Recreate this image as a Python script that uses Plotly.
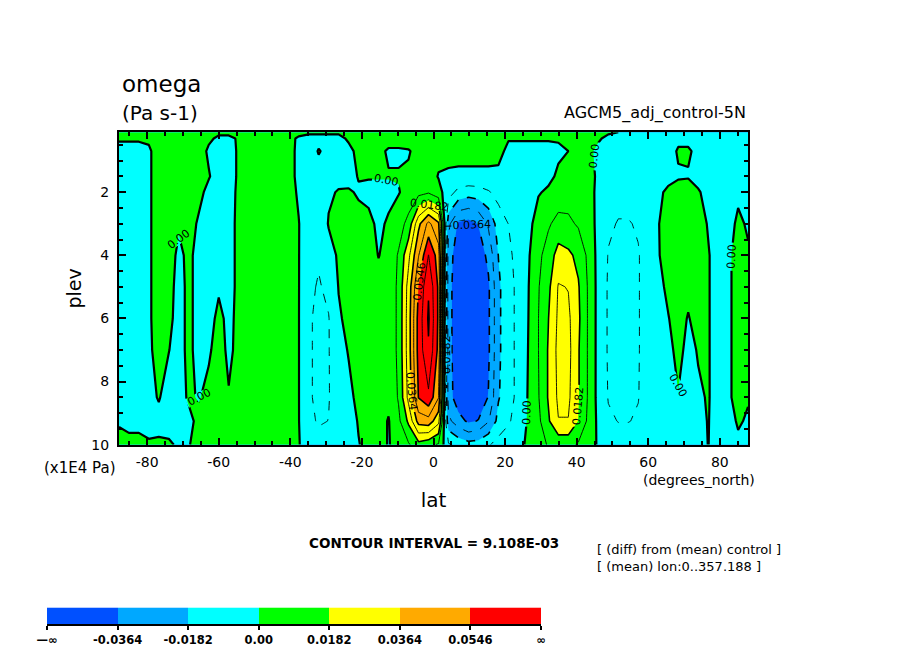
import plotly.graph_objects as go

# T42 gaussian latitudes (degrees_north)
lats = [-87.86, -85.10, -82.32, -79.53, -76.74, -73.95, -71.16, -68.37,
        -65.58, -62.79, -60.00, -57.21, -54.42, -51.63, -48.84, -46.05,
        -43.26, -40.47, -37.67, -34.88, -32.09, -29.30, -26.51, -23.72,
        -20.93, -18.14, -15.35, -12.56, -9.77, -6.98, -4.19, -1.40,
        1.40, 4.19, 6.98, 9.77, 12.56, 15.35, 18.14, 20.93,
        23.72, 26.51, 29.30, 32.09, 34.88, 37.67, 40.47, 43.26,
        46.05, 48.84, 51.63, 54.42, 57.21, 60.00, 62.79, 65.58,
        68.37, 71.16, 73.95, 76.74, 79.53, 82.32, 85.10, 87.86]

# pressure levels (x1E4 Pa), top to bottom
plev = [0.1, 0.3, 0.7, 1.5, 2.0, 3.0, 4.0, 5.0, 6.0, 7.0, 8.5, 9.25, 10.0]

# omega difference, one vertical profile per latitude (units of 1E-3 Pa s-1)
omega_cols = [
    [3, 1, -3, -4, -4, -4, -4, -4, -4, -4, -4, -1, 3],
    [3, 1, -3, -4, -4, -4, -4, -4, -3, -3, -3, -2, 2],
    [3, 1, -3, -5, -5, -5, -5, -5, -4, -4, -4, -2, 2],
    [3, 1, -1, -1, -1, -1, -1, -1, -1, -1, -2, -3, 1],
    [5, 4, 3, 3, 3, 3, 3, 3, 3, 2, 0.5, -2, 1],
    [5, 4, 4, 4, 4, 4, 4, 3, 2, 0.2, -3, -3, 1],
    [5, 4, 4, 4, 3, 1, -2, -3, -3, -3, -3, -3, -1],
    [5, 4, 4, 4, 4, 3, 2, 2, 2, 2, 1, -2, -0.3],
    [4, 3, 3, 3, 2, -1, -3, -3, -3, -3, -0.5, 2, 2],
    [2, 1, -1, 0.5, -2, -4, -4, -4, -3, -1, 2, 3, 3],
    [1, -1, -2, -3, -3, -4, -4, -1, 2, 3, 3, 3, 3],
    [1, -1, -3, -3, -3, -3, -3, -3, -2, -1.5, 0.5, 3, 3],
    [2, 0.5, 1, 1, 1.5, 2, 2, 2, 2, 2, 3, 3, 3],
    [3, 3, 3, 3, 4, 4, 4, 4, 4, 4, 4, 4, 4],
    [3, 3, 4, 5, 5, 5, 5, 5, 5, 5, 5, 5, 5],
    [3, 3, 4, 5, 5, 6, 6, 6, 6, 6, 6, 5, 5],
    [3, 3, 4, 5, 5, 5, 5, 5, 5, 5, 5, 5, 4],
    [2, 2, 3, 3, 3, 3, 3, 3, 3, 3, 3, 3, 3],
    [2, -1, -2, -2, -1, 0.3, 0.3, 0.3, 0.3, 0.3, 0.3, 0.3, 0.5],
    [1, -2, -4, -4, -4, -5, -6, -7, -8, -8, -8, -7, -4],
    [1, -2, 0.5, -3, -4, -6, -8, -10, -11, -11, -11, -10, -6],
    [1, -2, -2, -3, -1, 0.5, -3, -7, -9.5, -9.5, -9.5, -9, -6],
    [1, -2, -3, -2, 0.5, 2, 1, 0.3, -1, -3, -5, -5, -4],
    [2, 1, -2, -3, 1, 3, 3, 3, 2, 0.5, -2, -3, -3],
    [3, 3, 2, 0.5, -1, 3, 4, 4, 4, 3, 2, 0.5, -0.3],
    [3, 3, 2, 0.5, -2, 2, 4, 5, 5, 5, 4, 3, 2],
    [3, 3, 2, 0.5, -2, -1.5, -0.3, 3, 4, 5, 4, 3, 3],
    [3, 3, -1, 0.5, -2, 1, 3, 3, 3, 3, 2, -0.5, -0.5],
    [3, 3, -1, 0.5, -0.5, 5, 10, 11, 11, 11, 10, 7, 3],
    [3, 3, -0.5, 1, 3, 12, 25, 31, 32, 32, 30, 20, 8],
    [3, 3, 2, 3, 6, 34, 45, 55, 58, 58, 55, 40, 15],
    [3, 3, 2, 4, 8, 48, 64, 72, 74, 72, 62, 42, 12],
    [3, 3, 2.5, -0.5, 3, 38, 50, 53, 53, 52, 46, 30, 8],
    [3, 3, 3, -1.5, -5, -25, -32, -33, -33, -33, -32, -25, -8],
    [3, 3, 3, -2, -12, -38, -42, -43, -43, -43, -42, -33, -12],
    [3, 3, 3, -2, -14, -40, -44, -44, -44, -44, -43, -38, -15],
    [3, 3, 3, -2, -13, -36, -42, -43, -43, -43, -42, -36, -14],
    [3, 3, 3, -2, -10, -26, -34, -38, -38, -38, -36, -28, -10],
    [3, 3, 2.5, -2, -6, -14, -18, -20, -20, -20, -19, -15, -6],
    [2, 0.5, -2, -3, -4, -9, -11, -12, -12, -12, -12, -10, -5],
    [2, 0.5, -2, -3, -3, -5, -6, -7, -7, -7, -7, -6, -3],
    [2, 0.5, -2, -3, -3, -2, -1, -0.3, 0, 0.3, 0.8, 1.2, 2],
    [2, 0.5, -2, -2, -0.5, 3, 7, 8.5, 9, 9, 8.5, 7, 5],
    [2, 0.5, -2, -1.5, 1, 8, 13, 16, 18, 19, 19, 17, 10],
    [2, 0.5, -1, 1, 4, 12, 22, 28, 29, 30, 29, 27, 12],
    [2, 0.5, 0, 2, 5, 11, 20, 27, 29, 30, 29, 27, 12],
    [2, 1, 1, 3, 4, 8, 16, 19, 20, 19, 19, 18, 8],
    [2, 1, 1, 2, 3, 5, 7, 8, 8, 8, 8, 7, 4],
    [1, 0.5, -1, -1, -2, -3, -3, -3, -3, -3, -3, -2, -1],
    [0.5, -1, -2, -3, -5, -8, -9.5, -10, -10, -10, -9.5, -8, -5],
    [0, -1, -3, -4, -7, -9.5, -10.5, -11, -11, -11, -10.5, -9.3, -6],
    [-1, -1, -3, -4, -7, -9.5, -10.5, -11, -11, -11, -10.5, -9.3, -6],
    [-1, -1, -3, -4, -6, -8.5, -9.5, -9.5, -9.5, -9.5, -9.3, -8.5, -5],
    [-1, -1, -2, -3, -4, -5, -6, -6, -6, -6, -6, -5, -4],
    [-1, -1, -2, -2, -1, -0.2, -0.5, -2, -3, -3, -3, -3, -2],
    [-1, -1, -2, -1.5, 1, 2, 3, 1.5, -0.3, -2, -3, -3, -2],
    [-1, -1, 0.5, -0.5, 2, 3, 4, 4, 3, 2, -0.3, -2, -2],
    [-1, -1, 0.5, -0.3, 2, 4, 4, 2, -0.5, -2, -3, -3, -2],
    [-1, -1, -1, -1, 0.3, 3, 4, 4, 3, 0.5, -1, -2, -2],
    [-1, -1, -1, -1, -1, -0.5, 0.5, 0.5, 0.5, 0.5, 0.5, 0.3, 0.1],
    [-1, -1, -2, -3, -3, -3, -3, -3, -3, -3, -3, -3, -2],
    [-1, -1, -2, -2, -2, -1, -0.5, -0.5, -0.5, -0.5, -0.5, -1, -1],
    [-1, -1, -1, -1, -0.5, 0.5, 1, 1, 1, 1, 1, 0.3, -0.5],
    [-1, -1, -1, -1, -1, -0.3, 0.3, 0.3, 0.3, 0.3, 0.2, -0.3, -1],
]
scale = 1e-3

ci = 9.108e-3  # contour interval
band_colors = ["#0050ff", "#00a8ff", "#00ffff", "#00ff00",
               "#ffff00", "#ffaa00", "#ff0000"]
band_labels = ["\u2014\u221e", "-0.0364", "-0.0182", "0.00",
               "0.0182", "0.0364", "0.0546", "\u221e"]
lat_ticks = [-80, -60, -40, -20, 0, 20, 40, 60, 80]
plev_ticks = [2, 4, 6, 8, 10]

z = [[col[k] * scale for col in omega_cols] for k in range(len(plev))]
band_scale = [[k / (len(band_colors) - 1), c] for k, c in enumerate(band_colors)]

FONT = "DejaVu Sans"
W, H = 904, 654
L, R, T, B = 32, 100, 123, 14
OFF = 8      # page margin around the figure
YS = 0.99    # vertical squeeze seen in the snapshot


def px(x):
    return (x - OFF - L) / (W - L - R)


def py(y):
    fy = (y - OFF) / YS
    return (H - B - fy) / (H - T - B)


fig = go.Figure()

# shaded bands
fig.add_trace(go.Contour(
    x=lats, y=plev, z=z, autocontour=False,
    contours=dict(start=-4 * ci, end=6 * ci, size=2 * ci,
                  coloring="fill", showlines=False),
    colorscale=band_scale, showscale=False,
    line=dict(width=0, smoothing=0), hoverinfo="skip"))


def contour_lines(start, end, width, dash, labels, fmt):
    return go.Contour(
        x=lats, y=plev, z=z, autocontour=False,
        contours=dict(start=start, end=end, size=2 * ci, coloring="none",
                      showlabels=labels, labelformat=fmt,
                      labelfont=dict(family=FONT, size=11, color="black")),
        line=dict(color="black", width=width, dash=dash, smoothing=0),
        showscale=False, hoverinfo="skip")


fig.add_trace(contour_lines(ci, 9 * ci, 0.9, "solid", False, ".4f"))
fig.add_trace(contour_lines(-5 * ci, -ci, 0.9, "dash", False, ".4f"))
fig.add_trace(contour_lines(2 * ci, 8 * ci, 1.6, "solid", True, ".4f"))
fig.add_trace(contour_lines(-4 * ci, -2 * ci, 1.6, "dash", True, ".4f"))
fig.add_trace(contour_lines(0, 0, 2.2, "solid", True, ".2f"))

# colour key
fig.add_trace(go.Heatmap(
    z=[list(range(len(band_colors)))], x=list(range(len(band_colors))), y=[0],
    colorscale=band_scale, zmin=0, zmax=len(band_colors) - 1,
    showscale=False, xaxis="x2", yaxis="y2", hoverinfo="skip"))

axis_common = dict(showline=True, linecolor="black", linewidth=2,
                   mirror="allticks", ticks="inside", ticklen=7,
                   tickcolor="black", tickwidth=1.5, showgrid=False,
                   zeroline=False, tickfont=dict(family=FONT, size=14, color="black"))

fig.update_layout(
    width=W, height=H,
    margin=dict(l=L, r=R, t=T, b=B),
    paper_bgcolor="white", plot_bgcolor="white",
    font=dict(family=FONT, color="black"),
    showlegend=False,
    xaxis=dict(axis_common, domain=[px(119), px(748)], anchor="y",
               range=[lats[0], lats[-1]],
               tickmode="array", tickvals=lat_ticks,
               ticktext=[str(v) for v in lat_ticks], ticklabelstandoff=3,
               minor=dict(tickmode="linear", tick0=0, dtick=5, ticks="inside",
                          ticklen=4, tickcolor="black"),
               title=dict(text="lat", font=dict(size=20), standoff=24)),
    yaxis=dict(axis_common, domain=[py(444), py(131)], anchor="x",
               range=[plev[-1], plev[0]],
               tickmode="array", tickvals=plev_ticks,
               ticktext=[str(v) for v in plev_ticks], ticklabelstandoff=5,
               minor=dict(tickmode="linear", tick0=0, dtick=0.5, ticks="inside",
                          ticklen=4, tickcolor="black"),
               title=dict(text="plev", font=dict(size=19), standoff=5)),
    xaxis2=dict(domain=[px(47), px(541)], anchor="y2",
                range=[-0.5, len(band_colors) - 0.5],
                tickmode="array",
                tickvals=[k - 0.5 for k in range(len(band_labels))],
                ticktext=band_labels, ticks="outside", ticklen=4,
                tickcolor="black", tickwidth=1.5, showline=True,
                linecolor="black", linewidth=2, showgrid=False, zeroline=False,
                tickfont=dict(family=FONT, size=11.5, color="black", weight="bold")),
    yaxis2=dict(domain=[py(624), py(607)], anchor="x2", range=[-0.5, 0.5],
                visible=False),
)

notes = [
    ("omega", 120, 83, 23, "left", "normal"),
    ("(Pa s-1)", 120, 112, 20, "left", "normal"),
    ("AGCM5_adj_control-5N", 748, 112, 16, "right", "normal"),
    ("(x1E4 Pa)", 42, 467, 15, "left", "normal"),
    ("(degrees_north)", 641, 479, 14, "left", "normal"),
    ("CONTOUR INTERVAL = 9.108E-03", 307, 542, 13.5, "left", "bold"),
    ("[ (diff) from (mean) control ]", 595, 549, 13, "left", "normal"),
    ("[ (mean) lon:0..357.188 ]", 595, 566, 13, "left", "normal"),
]
for text, x, y, size, anchor, weight in notes:
    fig.add_annotation(text=text, xref="paper", yref="paper",
                       x=px(x), y=py(y), xanchor=anchor, yanchor="middle",
                       showarrow=False,
                       font=dict(family=FONT, size=size, color="black",
                                 weight=weight))

fig.write_html("out.html")
